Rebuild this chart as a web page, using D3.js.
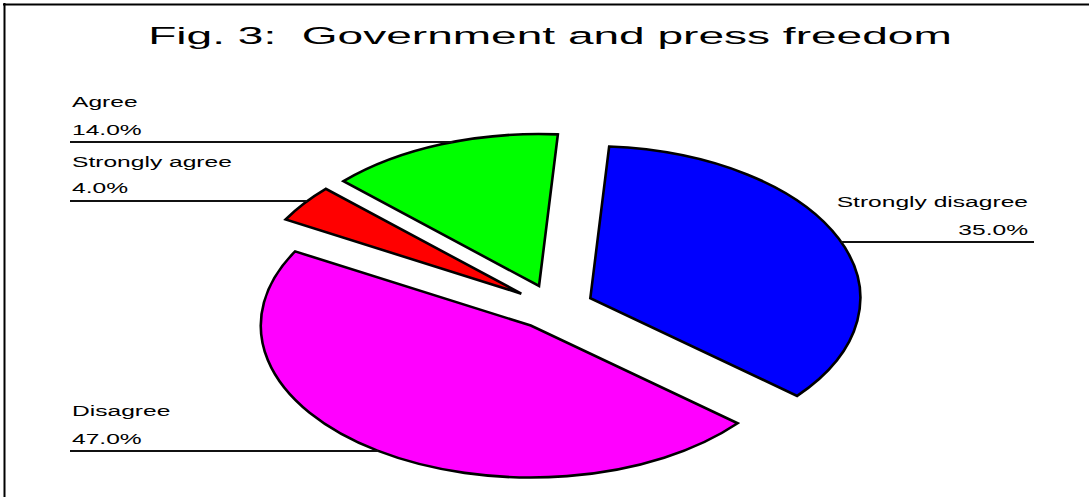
<!DOCTYPE html>
<html>
<head>
<meta charset="utf-8">
<script src="https://cdn.jsdelivr.net/npm/d3@7"></script>
<style>
  html, body { margin: 0; padding: 0; background: #fff; }
  svg { display: block; }
  text { font-family: "Liberation Sans", Arial, sans-serif; fill: #000; white-space: pre; }
</style>
</head>
<body>
<div id="chart"></div>
<script>
// chart data
const categories = ["Strongly disagree", "Disagree", "Strongly agree", "Agree"];
const values = [35.0, 47.0, 4.0, 14.0];
const colors = ["#0000ff", "#ff00ff", "#ff0000", "#00ff00"];
const title = "Fig. 3:  Government and press freedom";

const width = 1089, height = 497;

// ellipse pie geometry
const cx = 553.5, cy = 307;
const rx = 270, ry = 152;
const k = ry / rx;
const explode = 40;
const startDeg = 4;

// where each label sits: side, baseline of name, baseline of value, leader y
const labelLayout = {
  "Agree":             { side: "left",  y1: 107, y2: 135, ly: 142 },
  "Strongly agree":    { side: "left",  y1: 167, y2: 193, ly: 201 },
  "Strongly disagree": { side: "right", y1: 207, y2: 235, ly: 242 },
  "Disagree":          { side: "left",  y1: 416, y2: 444, ly: 451 }
};

const svg = d3.select("#chart").append("svg")
  .attr("width", width)
  .attr("height", height);

// frame (top and left edges only are visible)
svg.append("line")
  .attr("x1", 3).attr("x2", width).attr("y1", 4.5).attr("y2", 4.5)
  .attr("stroke", "#000").attr("stroke-width", 2);
svg.append("line")
  .attr("x1", 4.5).attr("x2", 4.5).attr("y1", 3).attr("y2", height)
  .attr("stroke", "#000").attr("stroke-width", 2);

// title, stretched wide like the original
svg.append("text")
  .attr("transform", "translate(550,44) scale(1.96,1)")
  .attr("text-anchor", "middle")
  .attr("xml:space", "preserve")
  .style("font-size", "23.5px")
  .text(title);

const data = categories.map((c, i) => ({ name: c, value: values[i], color: colors[i] }));

const a0 = startDeg * Math.PI / 180;
const pie = d3.pie()
  .sort(null)
  .value(d => d.value)
  .startAngle(a0)
  .endAngle(a0 + 2 * Math.PI);

const arc = d3.arc()
  .innerRadius(0)
  .outerRadius(rx);

const arcs = pie(data);

// offset of an exploded slice along its mid angle
function offset(d) {
  const m = (d.startAngle + d.endAngle) / 2;
  return [cx + explode * Math.sin(m), cy - explode * k * Math.cos(m)];
}

svg.append("g")
  .selectAll("path")
  .data(arcs)
  .enter()
  .append("path")
  .attr("transform", d => {
    const [ox, oy] = offset(d);
    return `translate(${ox},${oy}) scale(1,${k})`;
  })
  .attr("d", arc)
  .attr("fill", d => d.data.color)
  .attr("stroke", "#000")
  .attr("stroke-width", 2.6)
  .attr("stroke-linejoin", "miter")
  .style("vector-effect", "non-scaling-stroke");

// labels with leader lines that run to the slice edge
const labels = svg.append("g");
arcs.forEach(d => {
  const lay = labelLayout[d.data.name];
  const [ox, oy] = offset(d);
  const t = (lay.ly - oy) / ry;
  const dx = rx * Math.sqrt(Math.max(0, 1 - t * t));
  const left = lay.side === "left";
  const edgeX = left ? ox - dx : ox + dx;

  labels.append("line")
    .attr("x1", left ? 70 : edgeX)
    .attr("x2", left ? edgeX : 1034)
    .attr("y1", lay.ly).attr("y2", lay.ly)
    .attr("stroke", "#111")
    .attr("stroke-width", 2);

  const tx = left ? 72 : 1028;
  const anchor = left ? "start" : "end";
  [[d.data.name, lay.y1], [d3.format(".1f")(d.data.value) + "%", lay.y2]].forEach(([s, y]) => {
    labels.append("text")
      .attr("transform", `translate(${tx},${y}) scale(1.64,1)`)
      .attr("text-anchor", anchor)
      .style("font-size", "15px")
      .text(s);
  });
});
</script>
</body>
</html>
